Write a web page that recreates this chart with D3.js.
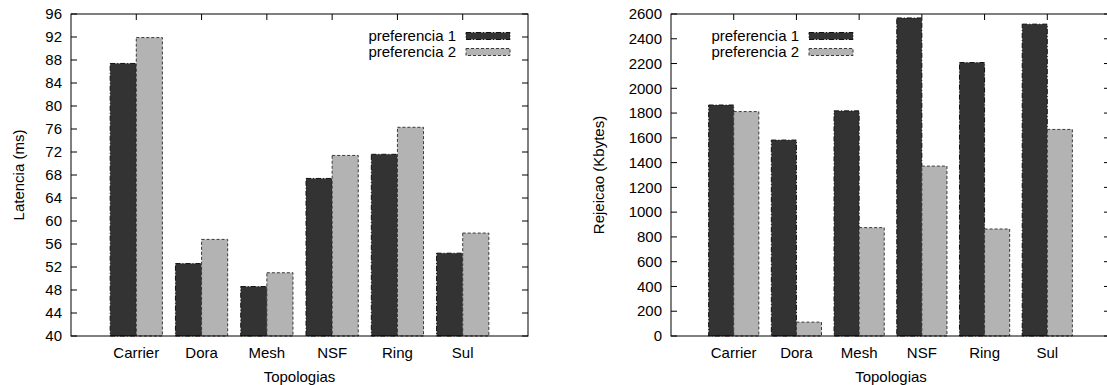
<!DOCTYPE html>
<html>
<head>
<meta charset="utf-8">
<script src="https://cdn.jsdelivr.net/npm/d3@7"></script>
<style>
  body { margin: 0; background: #fff; }
  text { font-family: "Liberation Sans", Arial, sans-serif; font-size: 15px; fill: #000; }
</style>
</head>
<body>
<div id="chart"></div>
<script>
// data
var topologias = ["Carrier", "Dora", "Mesh", "NSF", "Ring", "Sul"];
var series = ["preferencia 1", "preferencia 2"];

var latenciaPref1 = [87.4, 52.6, 48.6, 67.4, 71.6, 54.4];
var latenciaPref2 = [91.9, 56.8, 51.0, 71.4, 76.3, 57.9];
var latenciaTicks = [40, 44, 48, 52, 56, 60, 64, 68, 72, 76, 80, 84, 88, 92, 96];

var rejeicaoPref1 = [1865, 1582, 1818, 2568, 2208, 2518];
var rejeicaoPref2 = [1812, 112, 875, 1372, 864, 1668];
var rejeicaoTicks = [0, 200, 400, 600, 800, 1000, 1200, 1400, 1600, 1800, 2000, 2200, 2400, 2600];

var fills = ["#333333", "#b3b3b3"];
var strokes = ["#111111", "#3a3a3a"];
var dashes = ["5,2,1,2", "3,2"];

var svg = d3.select("#chart").append("svg")
            .attr("width", 1107)
            .attr("height", 385);

function drawChart(opts) {
  var left = opts.left, right = opts.right, top = 14, bottom = 336;
  var g = svg.append("g");

  var x = d3.scaleLinear().domain([-1, topologias.length]).range([left, right]);
  var y = d3.scaleLinear().domain(opts.domain).range([bottom, top]);
  var barW = x(0.4) - x(0);
  var tickLen = 6;

  // y ticks (left, mirrored right)
  g.selectAll(".ytl").data(opts.ticks).enter().append("line")
    .attr("x1", left).attr("x2", left + tickLen)
    .attr("y1", function(d) { return y(d); }).attr("y2", function(d) { return y(d); })
    .attr("stroke", "#000");
  g.selectAll(".ytr").data(opts.ticks).enter().append("line")
    .attr("x1", right).attr("x2", right - tickLen)
    .attr("y1", function(d) { return y(d); }).attr("y2", function(d) { return y(d); })
    .attr("stroke", "#000");
  g.selectAll(".ylab").data(opts.ticks).enter().append("text")
    .attr("x", left - 9)
    .attr("y", function(d) { return y(d); })
    .attr("dy", "0.35em")
    .attr("text-anchor", "end")
    .text(function(d) { return d; });

  // x ticks (top mirrored, bottom)
  g.selectAll(".xtt").data(topologias).enter().append("line")
    .attr("x1", function(d, i) { return x(i); }).attr("x2", function(d, i) { return x(i); })
    .attr("y1", top).attr("y2", top + tickLen)
    .attr("stroke", "#000");
  g.selectAll(".xtb").data(topologias).enter().append("line")
    .attr("x1", function(d, i) { return x(i); }).attr("x2", function(d, i) { return x(i); })
    .attr("y1", bottom).attr("y2", bottom - tickLen)
    .attr("stroke", "#000");
  g.selectAll(".xlab").data(topologias).enter().append("text")
    .attr("x", function(d, i) { return x(i); })
    .attr("y", 358)
    .attr("text-anchor", "middle")
    .text(function(d) { return d; });

  // bars
  opts.values.forEach(function(vals, s) {
    g.selectAll(".bar" + s).data(vals).enter().append("rect")
      .attr("x", function(d, i) { return s === 0 ? x(i) - barW : x(i); })
      .attr("y", function(d) { return y(d); })
      .attr("width", barW)
      .attr("height", function(d) { return bottom - y(d); })
      .attr("fill", fills[s])
      .attr("stroke", strokes[s])
      .attr("stroke-width", 1)
      .attr("stroke-dasharray", dashes[s]);
  });

  // border
  g.append("rect")
    .attr("x", left).attr("y", top)
    .attr("width", right - left).attr("height", bottom - top)
    .attr("fill", "none").attr("stroke", "#000").attr("stroke-width", 1);

  // axis titles
  g.append("text")
    .attr("x", (left + Math.min(right, 1107)) / 2 + opts.xTitleShift)
    .attr("y", 382)
    .attr("text-anchor", "middle")
    .text("Topologias");
  g.append("text")
    .attr("transform", "translate(" + opts.yTitleX + "," + (top + bottom) / 2 + ") rotate(-90)")
    .attr("dy", "0.35em")
    .attr("text-anchor", "middle")
    .text(opts.yTitle);

  // legend
  series.forEach(function(name, s) {
    var cy = 36 + s * 16;
    g.append("text")
      .attr("x", opts.legendX - 10)
      .attr("y", cy)
      .attr("dy", "0.35em")
      .attr("text-anchor", "end")
      .text(name);
    g.append("rect")
      .attr("x", opts.legendX).attr("y", cy - 3.5)
      .attr("width", 44).attr("height", 7)
      .attr("fill", fills[s])
      .attr("stroke", strokes[s])
      .attr("stroke-dasharray", dashes[s]);
  });
}

drawChart({
  left: 71, right: 528,
  domain: [40, 96], ticks: latenciaTicks,
  values: [latenciaPref1, latenciaPref2],
  yTitle: "Latencia (ms)", yTitleX: 19,
  legendX: 466, xTitleShift: 0
});

drawChart({
  left: 671, right: 1110,
  domain: [0, 2600], ticks: rejeicaoTicks,
  values: [rejeicaoPref1, rejeicaoPref2],
  yTitle: "Rejeicao (Kbytes)", yTitleX: 599,
  legendX: 809, xTitleShift: 2
});
</script>
</body>
</html>
